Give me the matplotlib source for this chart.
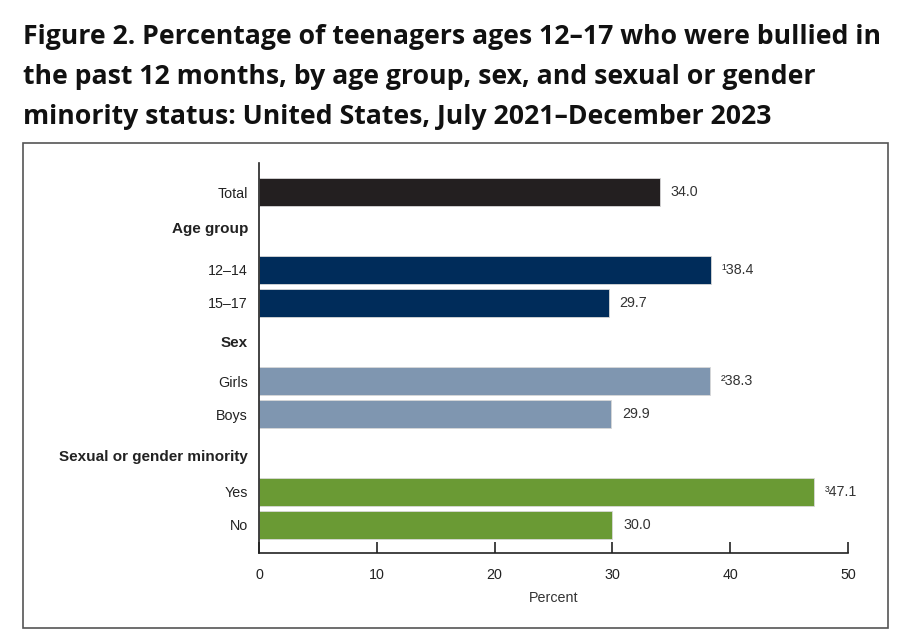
import matplotlib
matplotlib.use("Agg")
import matplotlib.pyplot as plt
from matplotlib.patches import Rectangle

# Data
labels = ["Total", "12–14", "15–17", "Girls", "Boys", "Yes", "No"]
values = [34.0, 38.4, 29.7, 38.3, 29.9, 47.1, 30.0]
notes = ["", "¹", "", "²", "", "³", ""]
headers = ["Age group", "Sex", "Sexual or gender minority"]
x_ticks = [0, 10, 20, 30, 40, 50]

# Layout (row positions, in bar-step units)
bar_rows = [0, 2.36, 3.36, 5.73, 6.73, 9.09, 10.09]
header_rows = [1.06, 4.52, 7.97]
colors = ["#231f20", "#002c5a", "#002c5a", "#7f96b0", "#7f96b0", "#6a9a34", "#6a9a34"]

FS = 10.3

fig = plt.figure(figsize=(9.03, 6.36), dpi=100)
fig.patch.set_facecolor("white")

# Title
title = ("Figure 2. Percentage of teenagers ages 12–17 who were bullied in\n"
         "the past 12 months, by age group, sex, and sexual or gender\n"
         "minority status: United States, July 2021–December 2023")
fig.text(0.025, 0.963, title, ha="left", va="top", fontsize=19.2,
         fontweight="bold", family="Open Sans", color="#111111",
         linespacing=1.72)

# Frame around chart
fig.patches.append(Rectangle((23 / 903, 1 - 628 / 636), 865 / 903, 485 / 636,
                             transform=fig.transFigure, fill=False,
                             edgecolor="#555555", linewidth=1.2))

ax = fig.add_axes([259 / 903, 1 - 553 / 636, 589 / 903, 390 / 636])
ax.barh(bar_rows, values, height=0.85, color=colors, edgecolor="#d8d8d8",
        linewidth=0.6)

for y, v, n in zip(bar_rows, values, notes):
    ax.text(v + 0.9, y, f"{n}{v:.1f}", va="center", ha="left", fontsize=FS,
            family="Liberation Sans", color="#333333")

ax.set_ylim(10.94, -0.88)
ax.set_xlim(0, 50)
ax.set_yticks(bar_rows + header_rows)
ax.set_yticklabels(labels + headers, family="Liberation Sans", fontsize=FS,
                   color="#222222")
for lbl in ax.get_yticklabels()[len(labels):]:
    lbl.set_fontweight("bold")
    lbl.set_fontsize(11)
ax.tick_params(axis="y", length=0, pad=8)

ax.set_xticks(x_ticks)
ax.set_xticklabels([str(t) for t in x_ticks], family="Liberation Sans",
                   fontsize=FS, color="#222222")
ax.tick_params(axis="x", direction="in", length=8, width=1.2, pad=11,
               color="#222222")
ax.set_xlabel("Percent", family="Liberation Sans", fontsize=FS,
              color="#333333", labelpad=6)

for side in ["top", "right"]:
    ax.spines[side].set_visible(False)
for side in ["left", "bottom"]:
    ax.spines[side].set_linewidth(1.2)
    ax.spines[side].set_color("#222222")

fig.savefig("out.png", dpi=100)
